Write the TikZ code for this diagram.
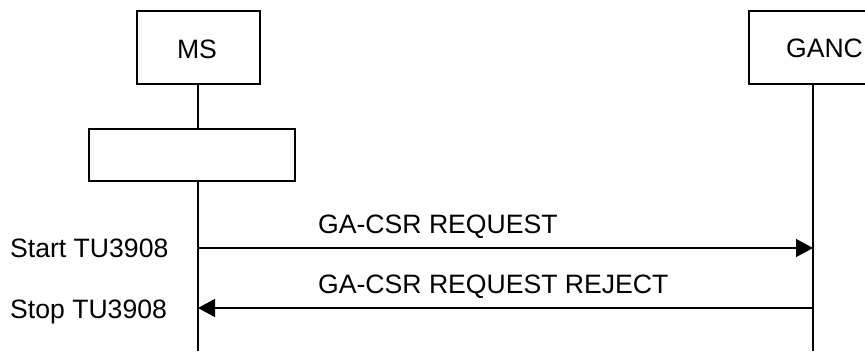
\documentclass[tikz,border=0pt]{standalone}
\usepackage{fontspec}
\setmainfont{Liberation Sans}
\usetikzlibrary{arrows.meta}
\begin{document}
\begin{tikzpicture}[x=1pt,y=-1pt,
  box/.style={draw, line width=1.3pt, inner sep=0pt},
  life/.style={line width=2pt},
  msg/.style={line width=1.3pt, -{Triangle[length=17pt,width=18pt]}},
  lbl/.style={inner sep=0pt, font=\fontsize{26.6}{30}\selectfont}]
\useasboundingbox (0,0) rectangle (865,351);
\clip (0,0) rectangle (865,351);
\fill[white] (0,0) rectangle (865,351);
% entity boxes
\node[box, minimum width=123pt, minimum height=73pt] (ms) at (198.5,47.5) {};
\node[box, minimum width=151pt, minimum height=73pt] (ganc) at (824.5,47.5) {};
\node[lbl, anchor=base] (mstext) at (197,58.3) {MS};
\node[lbl, anchor=base] (ganctext) at (824.5,57.5) {GANC};
% action box on MS lifeline
\node[box, minimum width=206pt, minimum height=52pt] (act) at (192,155) {};
% lifeline coordinates
\coordinate (mstop) at (198,84);
\coordinate (msbot) at (198,351);
\coordinate (ganctop) at (813,84);
\coordinate (gancbot) at (813,351);
\coordinate (msa) at (198,129);
\coordinate (msb) at (198,181);
\coordinate (ms1) at (198,248);
\coordinate (ms2) at (198,308);
\coordinate (g1) at (813,248);
\coordinate (g2) at (813,308);
\draw[life] (mstop) -- (msa);
\draw[life] (msb) -- (msbot);
\draw[life] (ganctop) -- (gancbot);
% messages
\draw[msg] (ms1) -- (g1);
\draw[msg] (g2) -- (ms2);
\node[lbl, anchor=base west] (l1) at (318,233) {GA-CSR REQUEST};
\node[lbl, anchor=base west] (l2) at (318,293) {GA-CSR REQUEST REJECT};
% timer labels
\node[lbl, anchor=base west] (t1) at (10,257) {Start TU3908};
\node[lbl, anchor=base west] (t2) at (10,318) {Stop TU3908};
\end{tikzpicture}
\end{document}
